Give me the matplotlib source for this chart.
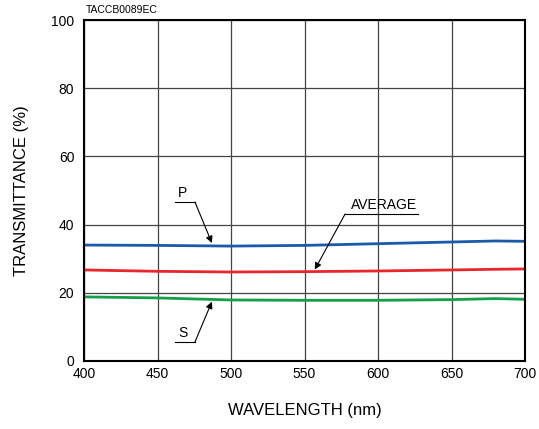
import numpy as np
import matplotlib.pyplot as plt

plt.rcParams['font.family'] = ['Liberation Sans', 'DejaVu Sans']

wavelength = [400, 450, 500, 550, 600, 650, 680, 700]
p_trans = [34.0, 33.9, 33.7, 33.9, 34.4, 34.9, 35.2, 35.1]
avg_trans = [26.7, 26.3, 26.1, 26.2, 26.4, 26.7, 26.9, 27.0]
s_trans = [18.8, 18.5, 17.9, 17.8, 17.8, 18.0, 18.3, 18.1]

xticks = [400, 450, 500, 550, 600, 650, 700]
yticks = [0, 20, 40, 60, 80, 100]

fig = plt.figure(figsize=(5.39, 4.29), dpi=100)
ax = fig.add_axes([84 / 539, 68 / 429, 441 / 539, 341 / 429])

ax.plot(wavelength, p_trans, color='#1a5aa8', lw=2)
ax.plot(wavelength, avg_trans, color='#e8262b', lw=2)
ax.plot(wavelength, s_trans, color='#14a04a', lw=2)

ax.set_xlim(400, 700)
ax.set_ylim(0, 100)
ax.set_xticks(xticks)
ax.set_yticks(yticks)
ax.grid(True, color='#444444', lw=0.9)
ax.tick_params(axis='x', length=0, labelsize=10, pad=4)
ax.tick_params(axis='y', length=0, labelsize=10, pad=7)
for s in ax.spines.values():
    s.set_linewidth(1.5)

ax.set_xlabel('WAVELENGTH (nm)', fontsize=12, labelpad=16)
ax.set_ylabel('TRANSMITTANCE (%)', fontsize=12, labelpad=16)

fig.text(86 / 539, 1 - 10 / 429, 'TACCB0089EC', fontsize=7.5, va='center')

# annotations: underline + arrow
def callout(label, x0, x1, y, tip, tx):
    ax.plot([x0, x1], [y, y], color='black', lw=0.8)
    ax.text(tx, y + 0.6, label, ha='center', va='bottom', fontsize=10)
    ax.annotate('', xy=tip, xytext=(x1, y),
                arrowprops=dict(arrowstyle='-|>', color='black', lw=0.8,
                                mutation_scale=10, shrinkA=0, shrinkB=0))

callout('P', 462, 475.5, 46.6, (487, 34.6), 467)
callout('AVERAGE', 627, 577.6, 43.1, (557, 26.8), 604)
ax.plot([462, 475.5], [5.6, 5.6], color='black', lw=0.8)
ax.text(467, 6.2, 'S', ha='center', va='bottom', fontsize=10)
ax.annotate('', xy=(487, 17.4), xytext=(475.5, 5.6),
            arrowprops=dict(arrowstyle='-|>', color='black', lw=0.8,
                            mutation_scale=10, shrinkA=0, shrinkB=0))

fig.savefig('out.png', dpi=100)
